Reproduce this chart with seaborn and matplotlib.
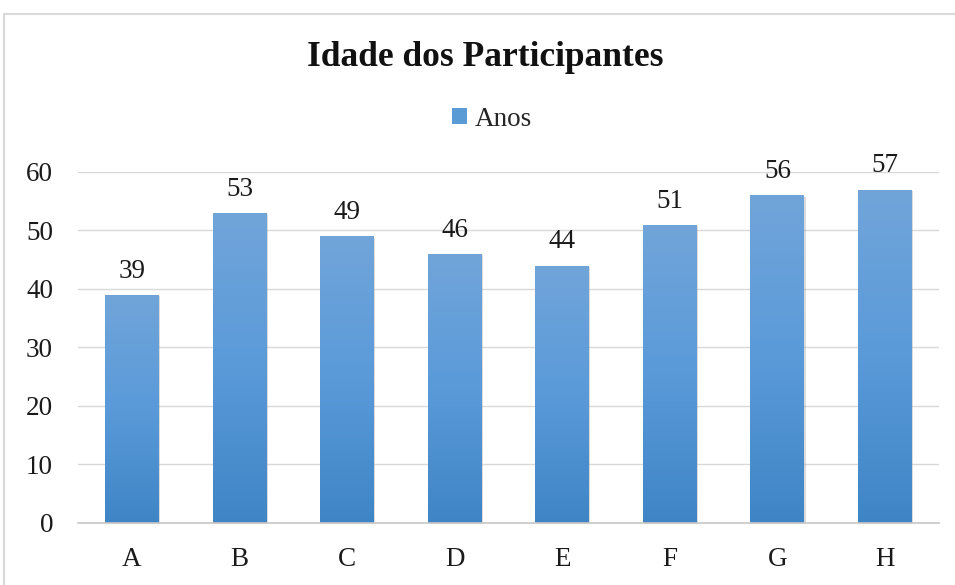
import numpy as np
import pandas as pd
import seaborn as sns
import matplotlib.pyplot as plt
from matplotlib.patches import Rectangle, Patch
from matplotlib.colors import LinearSegmentedColormap

# data
participants = ["A", "B", "C", "D", "E", "F", "G", "H"]
ages = [39, 53, 49, 46, 44, 51, 56, 57]
series_name = "Anos"
title = "Idade dos Participantes"
y_ticks = [0, 10, 20, 30, 40, 50, 60]

df = pd.DataFrame({"participante": participants, "idade": ages})

sns.set_style("white")
plt.rcParams["font.family"] = ["Liberation Serif", "DejaVu Serif"]

fig = plt.figure(figsize=(9.55, 5.85), dpi=100)
ax = fig.add_axes([0.0817, 0.106, 0.9013, 0.600])

sns.barplot(data=df, x="participante", y="idade", color="#5b9bd5",
            width=0.5, ax=ax, zorder=3)

# gradient fill like the spreadsheet style (light top, darker bottom)
grad = LinearSegmentedColormap.from_list("bar", ["#3f85c6", "#5a9ad9", "#71a5da"])
g = np.linspace(0, 1, 256).reshape(-1, 1)
for p in ax.patches:
    x0, w, h = p.get_x(), p.get_width(), p.get_height()
    # soft shadow
    sh = Rectangle((x0 + 0.012, -0.25), w, h, facecolor="#9a9a9a", alpha=0.35,
                   edgecolor="none", zorder=2, clip_on=False)
    ax.add_patch(sh)
    im = ax.imshow(g, cmap=grad, aspect="auto", origin="lower",
                   extent=(x0, x0 + w, 0, h), zorder=3.5)
    im.set_clip_path(p)
    p.set_facecolor("none")
    p.set_edgecolor("none")
    ax.annotate(str(int(h)), (x0 + w / 2, h), xytext=(0, 8), textcoords="offset points",
                ha="center", va="bottom", fontsize=19.5, color="#1a1a1a")

ax.set_xlim(-0.5, len(participants) - 0.5)
ax.set_ylim(0, 60)
ax.set_yticks(y_ticks)
ax.yaxis.grid(True, color="#d9d9d9", linewidth=1.0, zorder=0)
ax.set_axisbelow(True)
for s in ["top", "right", "left"]:
    ax.spines[s].set_visible(False)
ax.spines["bottom"].set_color("#c8c8c8")
ax.spines["bottom"].set_linewidth(1.2)
ax.spines["bottom"].set_zorder(4)
ax.tick_params(axis="both", length=0, labelsize=19.5, labelcolor="#1a1a1a")
ax.tick_params(axis="x", pad=17)
ax.tick_params(axis="y", pad=18)
ax.set_xlabel("")
ax.set_ylabel("")

fig.text(0.508, 0.902, title, ha="center", va="center", fontsize=25.5,
         fontweight="bold", color="#111111")
fig.legend(handles=[Patch(facecolor="#5b9bd5", edgecolor="none", label=series_name)],
           loc="center", bbox_to_anchor=(0.515, 0.796), frameon=False, fontsize=19.5,
           handlelength=0.55, handleheight=0.55, handletextpad=0.3)

# chart area border
fig.patches.append(Rectangle((4 / 955, -0.05), 1.1, 1 - 14 / 585 + 0.05,
                             transform=fig.transFigure, fill=False,
                             edgecolor="#d9d9d9", linewidth=1.5))

fig.savefig("out.png", dpi=100, facecolor="white")
